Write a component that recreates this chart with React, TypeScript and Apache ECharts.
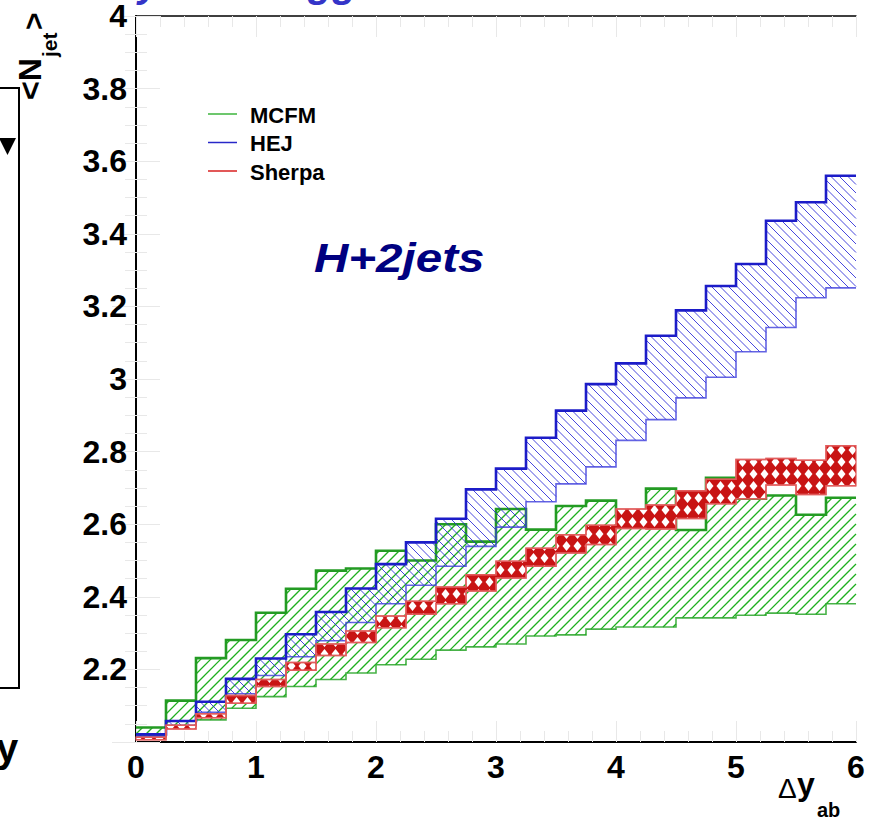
import React, { useEffect, useRef } from "react";
import * as echarts from "echarts";

// ---------- data ----------
const binEdges = [0, 0.25, 0.5, 0.75, 1, 1.25, 1.5, 1.75, 2, 2.25, 2.5, 2.75, 3, 3.25, 3.5, 3.75, 4, 4.25, 4.5, 4.75, 5, 5.25, 5.5, 5.75, 6];

const mcfmHi = [2.040, 2.114, 2.231, 2.281, 2.356, 2.422, 2.472, 2.478, 2.527, 2.500, 2.600, 2.552, 2.642, 2.585, 2.650, 2.665, 2.620, 2.698, 2.584, 2.728, 2.670, 2.679, 2.626, 2.673];
const mcfmLo = [2.018, 2.044, 2.061, 2.093, 2.125, 2.153, 2.172, 2.190, 2.213, 2.228, 2.253, 2.262, 2.270, 2.292, 2.295, 2.311, 2.317, 2.317, 2.342, 2.342, 2.349, 2.355, 2.352, 2.381];

const hejHi = [2.021, 2.058, 2.111, 2.174, 2.230, 2.297, 2.358, 2.423, 2.490, 2.550, 2.615, 2.696, 2.753, 2.838, 2.913, 2.986, 3.043, 3.119, 3.189, 3.256, 3.317, 3.436, 3.487, 3.560];
const hejLo = [2.016, 2.046, 2.082, 2.133, 2.183, 2.235, 2.279, 2.329, 2.381, 2.432, 2.484, 2.539, 2.592, 2.662, 2.711, 2.758, 2.831, 2.888, 2.948, 3.005, 3.075, 3.142, 3.224, 3.251];

const sherpaHi = [2.013, 2.046, 2.078, 2.128, 2.172, 2.219, 2.270, 2.306, 2.347, 2.388, 2.427, 2.461, 2.498, 2.534, 2.571, 2.597, 2.642, 2.653, 2.692, 2.724, 2.778, 2.781, 2.776, 2.816];
const sherpaLo = [2.006, 2.036, 2.067, 2.107, 2.153, 2.198, 2.238, 2.274, 2.315, 2.352, 2.381, 2.416, 2.452, 2.484, 2.521, 2.544, 2.588, 2.587, 2.616, 2.656, 2.670, 2.708, 2.682, 2.706];

const legendNames = ["MCFM", "HEJ", "Sherpa"];
const legendColors = ["#3cb43c", "#2828c8", "#d82020"];

const FONT = "'Liberation Sans', Arial, Helvetica, sans-serif";

function diamondTile() {
  const c = document.createElement("canvas");
  c.width = 11;
  c.height = 12;
  const ctx = c.getContext("2d")!;
  ctx.fillStyle = "#c81414";
  ctx.fillRect(0, 0, 11, 12);
  ctx.fillStyle = "#ffffff";
  ctx.beginPath();
  ctx.moveTo(5.5, 1.0);
  ctx.lineTo(9.5, 6);
  ctx.lineTo(5.5, 11.0);
  ctx.lineTo(1.5, 6);
  ctx.closePath();
  ctx.fill();
  return { image: c, repeat: "repeat", imageWidth: 11, imageHeight: 12 };
}

// hatch segments (45 deg) clipped to one pixel rectangle
function hatchLines(xa: number, xb: number, yt: number, yb: number, d: number, up: boolean, style: any) {
  const out: any[] = [];
  if (up) {
    const k0 = Math.ceil((xa + yt) / d);
    const k1 = Math.floor((xb + yb) / d);
    for (let k = k0; k <= k1; k++) {
      const c = k * d;
      const x0 = Math.max(xa, c - yb);
      const x1 = Math.min(xb, c - yt);
      if (x1 - x0 > 0.3) {
        out.push({ type: "line", shape: { x1: x0, y1: c - x0, x2: x1, y2: c - x1 }, style });
      }
    }
  } else {
    const k0 = Math.ceil((yt - xb) / d);
    const k1 = Math.floor((yb - xa) / d);
    for (let k = k0; k <= k1; k++) {
      const c = k * d;
      const x0 = Math.max(xa, yt - c);
      const x1 = Math.min(xb, yb - c);
      if (x1 - x0 > 0.3) {
        out.push({ type: "line", shape: { x1: x0, y1: x0 + c, x2: x1, y2: x1 + c }, style });
      }
    }
  }
  return out;
}

function bandSeries(
  name: string,
  lo: number[],
  hi: number[],
  fill: any,
  hatch: { d: number; up: boolean; color: string; width: number } | null,
  topColor: string,
  topWidth: number,
  botColor: string,
  botWidth: number,
  edge?: string
) {
  return {
    type: "custom",
    name,
    coordinateSystem: "cartesian2d",
    xAxisIndex: 0,
    yAxisIndex: 0,
    silent: true,
    data: lo.map((l, i) => [binEdges[i], binEdges[i + 1], l, hi[i]]),
    encode: { x: [0, 1], y: [2, 3] },
    renderItem: (params: any, api: any) => {
      if (params.dataIndex !== 0) return null;
      const top: number[][] = [];
      const bot: number[][] = [];
      const children: any[] = [];
      const hatchStyle = hatch ? { stroke: hatch.color, lineWidth: hatch.width, fill: null } : null;
      for (let i = 0; i < hi.length; i++) {
        const a = api.coord([binEdges[i], hi[i]]);
        const b = api.coord([binEdges[i + 1], hi[i]]);
        const c = api.coord([binEdges[i], lo[i]]);
        const e = api.coord([binEdges[i + 1], lo[i]]);
        top.push(a, b);
        bot.push(c, e);
        if (hatch) {
          children.push(...hatchLines(a[0], b[0], a[1], c[1], hatch.d, hatch.up, hatchStyle));
        }
      }
      if (fill) {
        const poly = top.concat(bot.slice().reverse());
        children.unshift({
          type: "polygon",
          shape: { points: poly },
          style: edge ? { fill, stroke: edge, lineWidth: 1.5 } : { fill, stroke: null },
        });
      }
      children.push({
        type: "polyline",
        shape: { points: bot },
        style: { fill: null, stroke: botColor, lineWidth: botWidth },
      });
      children.push({
        type: "polyline",
        shape: { points: top },
        style: { fill: null, stroke: topColor, lineWidth: topWidth },
      });
      return { type: "group", children };
    },
  };
}

export default function App() {
  const ref = useRef<HTMLDivElement>(null);

  useEffect(() => {
    document.body.style.margin = "0";
    if (!ref.current) return;
    const chart = echarts.init(ref.current, undefined, { renderer: "svg" });

    const tickGray = "#e8e8e8";
    const xCommon = {
      type: "value",
      min: 0,
      max: 6,
      interval: 1,
      splitLine: { show: false },
      axisTick: { show: true, inside: true, length: 21, lineStyle: { color: tickGray, width: 1 } },
      minorTick: { show: true, splitNumber: 5, length: 11, lineStyle: { color: tickGray, width: 1 } },
    };
    const yCommon = {
      type: "value",
      min: 2,
      max: 4,
      interval: 0.2,
      splitLine: { show: false },
      axisTick: { show: true, inside: true, length: 24, lineStyle: { color: tickGray, width: 1 } },
      minorTick: { show: true, splitNumber: 4, length: 11, lineStyle: { color: tickGray, width: 1 } },
    };

    const legendGraphics: any[] = [];
    legendNames.forEach((n, i) => {
      const y = 114 + i * 28.5;
      legendGraphics.push({
        type: "line",
        shape: { x1: 208, y1: y, x2: 237, y2: y },
        style: { stroke: legendColors[i], lineWidth: 1.5 },
      });
      legendGraphics.push({
        type: "text",
        x: 250,
        y: y + 1,
        style: {
          text: n,
          font: `bold 22px ${FONT}`,
          fill: "#000",
          textAlign: "left",
          textVerticalAlign: "middle",
        },
      });
    });

    chart.setOption({
      animation: false,
      backgroundColor: "#fff",
      grid: { left: 136, top: 12, width: 720, height: 730, containLabel: false },
      xAxis: [
        {
          ...xCommon,
          position: "bottom",
          axisLine: { show: true, lineStyle: { color: "#000", width: 2 } },
          axisLabel: {
            show: true,
            fontSize: 32,
            fontWeight: "bold",
            fontFamily: FONT,
            color: "#000",
            margin: 9,
          },
        },
        {
          ...xCommon,
          position: "top",
          axisLine: { show: true, lineStyle: { color: "#000", width: 1.5 } },
          axisLabel: { show: false },
        },
      ],
      yAxis: [
        {
          ...yCommon,
          position: "left",
          axisLine: { show: true, lineStyle: { color: "#555", width: 1.5 } },
          axisLabel: {
            show: true,
            showMinLabel: false,
            fontSize: 32,
            fontWeight: "bold",
            fontFamily: FONT,
            color: "#000",
            margin: 9,
          },
        },
        {
          ...yCommon,
          position: "right",
          axisLine: { show: true, lineStyle: { color: "#000", width: 2 } },
          axisLabel: { show: false },
        },
      ],
      series: [
        bandSeries("MCFM", mcfmLo, mcfmHi, null, { d: 10, up: true, color: "rgb(30,175,30)", width: 1.3 }, "#239b23", 2.6, "rgba(40,165,40,0.85)", 1.6),
        bandSeries("HEJ", hejLo, hejHi, null, { d: 8.5, up: false, color: "rgba(40,40,215,0.85)", width: 1 }, "#1c1cc8", 2.6, "rgba(60,60,220,0.8)", 1.6),
        bandSeries("Sherpa", sherpaLo, sherpaHi, diamondTile(), null, "rgba(225,90,90,0.9)", 1.5, "rgba(225,90,90,0.9)", 1.5, "rgba(225,90,90,0.8)"),
      ],
      graphic: [
        ...legendGraphics,
        {
          type: "text",
          x: 314,
          y: 258,
          scaleX: 1.16,
          style: {
            text: "H+2jets",
            font: `italic bold 41px ${FONT}`,
            fill: "#000080",
            textAlign: "left",
            textVerticalAlign: "middle",
          },
        },
        // x-axis title
        {
          type: "text",
          x: 778,
          y: 788,
          style: { text: "Δ", font: `28px ${FONT}`, fill: "#000", textAlign: "left", textVerticalAlign: "middle" },
        },
        {
          type: "text",
          x: 797,
          y: 784,
          style: { text: "y", font: `bold 32px ${FONT}`, fill: "#000", textAlign: "left", textVerticalAlign: "middle" },
        },
        {
          type: "text",
          x: 817,
          y: 810,
          style: { text: "ab", font: `bold 20px ${FONT}`, fill: "#000", textAlign: "left", textVerticalAlign: "middle" },
        },
        // y-axis title (rotated)
        {
          type: "group",
          x: 30,
          y: 100,
          rotation: Math.PI / 2,
          children: [
            { type: "text", x: 0, y: 0, style: { text: "<N", font: `bold 32px ${FONT}`, fill: "#000", textAlign: "left", textVerticalAlign: "middle" } },
            { type: "text", x: 43, y: 19, style: { text: "jet", font: `bold 21px ${FONT}`, fill: "#000", textAlign: "left", textVerticalAlign: "middle" } },
            { type: "text", x: 70, y: 3, style: { text: ">", font: `bold 30px ${FONT}`, fill: "#000", textAlign: "left", textVerticalAlign: "middle" } },
          ],
        },
        // partial neighbouring panel on the left
        {
          type: "rect",
          shape: { x: -10, y: 88, width: 29, height: 600 },
          style: { fill: null, stroke: "#000", lineWidth: 2 },
        },
        {
          type: "polygon",
          shape: { points: [[-1, 138], [16, 138], [7.5, 155]] },
          style: { fill: "#000" },
        },
        {
          type: "text",
          x: -4,
          y: 748,
          style: { text: "y", font: `bold 40px ${FONT}`, fill: "#000", textAlign: "left", textVerticalAlign: "middle" },
        },
        // cut-off blue title above the frame
        {
          type: "text",
          x: 138,
          y: 3,
          style: { text: "y", font: `italic bold 40px ${FONT}`, fill: "#3434c8", textAlign: "left", textVerticalAlign: "bottom" },
        },
        {
          type: "text",
          x: 308,
          y: 3,
          style: { text: "gg", font: `italic bold 40px ${FONT}`, fill: "#3434c8", textAlign: "left", textVerticalAlign: "bottom" },
        },
      ],
    });

    return () => chart.dispose();
  }, []);

  return <div ref={ref} style={{ width: 877, height: 822 }} />;
}
